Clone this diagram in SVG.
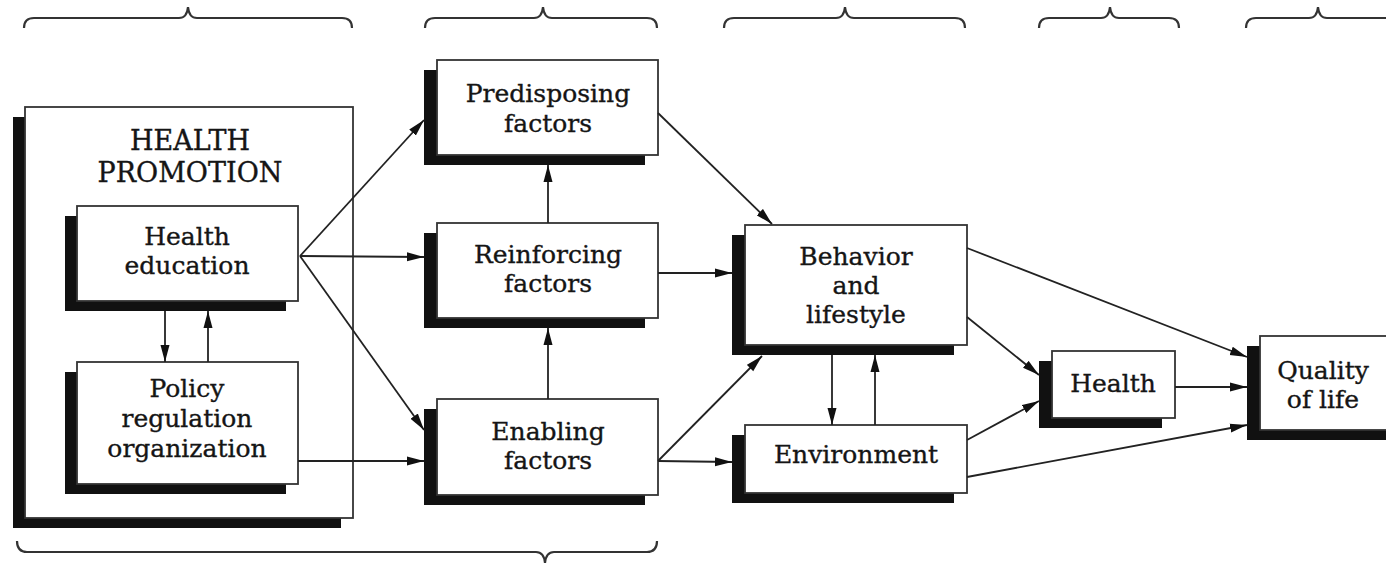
<svg xmlns="http://www.w3.org/2000/svg" width="1386" height="566" viewBox="0 0 1386 566">
<defs>
<style>
.sh{fill:#111}
.bx{fill:#fff;stroke:#333;stroke-width:1.8}
.t{font-family:"DejaVu Serif","Liberation Serif",serif;font-size:25px;fill:#151515;stroke:#151515;stroke-width:0.35;text-anchor:middle}
.h{font-size:27px}
.c{stroke:#222;stroke-width:1.8;fill:none;marker-end:url(#ah)}
.br{stroke:#333;stroke-width:2.2;fill:none}
</style>
<marker id="ah" markerUnits="userSpaceOnUse" markerWidth="18" markerHeight="10" refX="17" refY="5" orient="auto">
<path d="M0,0.5 L17,5 L0,9.5 z" fill="#111"/>
</marker>
</defs>
<rect width="1386" height="566" fill="#fff"/>
<g id="braces">
<path class="br" d="M24,28 Q24,18 34,18 L179,18 Q187,18 188,7 Q189,18 197,18 L342,18 Q352,18 352,28"/>
<path class="br" d="M425,28 Q425,18 435,18 L534,18 Q542,18 543,7 Q544,18 552,18 L647,18 Q657,18 657,28"/>
<path class="br" d="M724,28 Q724,18 734,18 L836,18 Q844,18 845,7 Q846,18 854,18 L955,18 Q965,18 965,28"/>
<path class="br" d="M1039,28 Q1039,18 1049,18 L1101,18 Q1109,18 1110,7 Q1111,18 1119,18 L1169,18 Q1179,18 1179,28"/>
<path class="br" d="M1246,28 Q1246,18 1256,18 L1309,18 Q1317,18 1318,7 Q1319,18 1327,18 L1386,18"/>
<path class="br" d="M17,541 Q17,552 27,552 L536,552 Q544,552 545,563 Q546,552 554,552 L647,552 Q657,552 657,541"/>
</g>
<g id="health-promotion">
<rect class="sh" x="13" y="117" width="328" height="411"/>
<rect class="bx" x="25" y="107" width="328" height="411"/>
<text class="t h" x="190" y="150">HEALTH</text>
<text class="t h" x="190" y="182">PROMOTION</text>
</g>
<g id="health-education">
<rect class="sh" x="65" y="216" width="221" height="95"/>
<rect class="bx" x="77" y="206" width="221" height="95"/>
<text class="t" x="187" y="245">Health</text>
<text class="t" x="187" y="274">education</text>
</g>
<g id="policy">
<rect class="sh" x="65" y="372" width="221" height="122"/>
<rect class="bx" x="77" y="362" width="221" height="122"/>
<text class="t" x="187" y="397">Policy</text>
<text class="t" x="187" y="427">regulation</text>
<text class="t" x="187" y="457">organization</text>
</g>
<g id="predisposing">
<rect class="sh" x="424" y="70" width="221" height="95"/>
<rect class="bx" x="437" y="60" width="221" height="95"/>
<text class="t" x="548" y="102">Predisposing</text>
<text class="t" x="548" y="132">factors</text>
</g>
<g id="reinforcing">
<rect class="sh" x="424" y="233" width="221" height="95"/>
<rect class="bx" x="437" y="223" width="221" height="95"/>
<text class="t" x="548" y="263">Reinforcing</text>
<text class="t" x="548" y="292">factors</text>
</g>
<g id="enabling">
<rect class="sh" x="424" y="409" width="221" height="96"/>
<rect class="bx" x="437" y="399" width="221" height="96"/>
<text class="t" x="548" y="440">Enabling</text>
<text class="t" x="548" y="469">factors</text>
</g>
<g id="behavior">
<rect class="sh" x="732" y="235" width="222" height="120"/>
<rect class="bx" x="745" y="225" width="222" height="120"/>
<text class="t" x="856" y="265">Behavior</text>
<text class="t" x="856" y="294">and</text>
<text class="t" x="856" y="323">lifestyle</text>
</g>
<g id="environment">
<rect class="sh" x="732" y="435" width="222" height="68"/>
<rect class="bx" x="745" y="425" width="222" height="68"/>
<text class="t" x="856" y="463">Environment</text>
</g>
<g id="health">
<rect class="sh" x="1039" y="361" width="123" height="67"/>
<rect class="bx" x="1052" y="351" width="123" height="67"/>
<text class="t" x="1113" y="392">Health</text>
</g>
<g id="quality">
<rect class="sh" x="1247" y="346" width="150" height="94"/>
<rect class="bx" x="1260" y="336" width="150" height="94"/>
<text class="t" x="1323" y="379">Quality</text>
<text class="t" x="1323" y="408">of life</text>
</g>
<g id="connectors">
<line class="c" x1="300" y1="256" x2="424" y2="120"/>
<line class="c" x1="300" y1="256" x2="424" y2="257"/>
<line class="c" x1="300" y1="256" x2="424" y2="430"/>
<line class="c" x1="298" y1="461" x2="424" y2="461"/>
<line class="c" x1="165" y1="311" x2="165" y2="362"/>
<line class="c" x1="208" y1="362" x2="208" y2="311"/>
<line class="c" x1="548" y1="223" x2="548" y2="165"/>
<line class="c" x1="548" y1="399" x2="548" y2="328"/>
<line class="c" x1="658" y1="113" x2="772" y2="224"/>
<line class="c" x1="658" y1="273" x2="732" y2="273"/>
<line class="c" x1="658" y1="461" x2="762" y2="356"/>
<line class="c" x1="658" y1="461" x2="732" y2="462"/>
<line class="c" x1="832" y1="355" x2="832" y2="425"/>
<line class="c" x1="875" y1="425" x2="875" y2="355"/>
<line class="c" x1="967" y1="248" x2="1247" y2="357"/>
<line class="c" x1="967" y1="317" x2="1039" y2="375"/>
<line class="c" x1="967" y1="440" x2="1039" y2="401"/>
<line class="c" x1="967" y1="477" x2="1247" y2="425"/>
<line class="c" x1="1175" y1="387" x2="1247" y2="387"/>
</g>
</svg>
